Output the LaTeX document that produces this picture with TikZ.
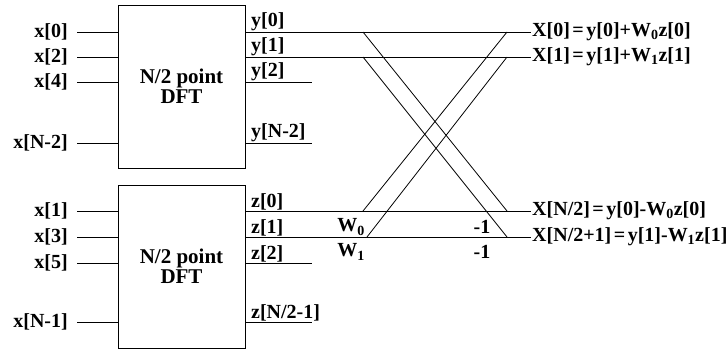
\documentclass[tikz,border=0pt]{standalone}
\usepackage{fontspec}
\setmainfont{Liberation Serif}
\usetikzlibrary{positioning}

\newcommand{\eqsp}{\hspace{2.5pt}=\hspace{2.5pt}}

\begin{document}
\begin{tikzpicture}[x=1pt, y=-1pt,
font=\fontsize{20}{22}\selectfont\bfseries,
dftbox/.style={draw, line width=0.8pt, minimum width=127pt, minimum height=163pt, align=center, font=\fontsize{21}{20}\selectfont\bfseries},
inlbl/.style={anchor=east, inner xsep=9pt, inner ysep=0pt},
outlbl/.style={anchor=south west, inner xsep=3pt, inner ysep=1pt},
sumlbl/.style={anchor=west, inner sep=1pt},
wire/.style={line width=0.8pt}
]
\useasboundingbox (0,0) rectangle (727,351);

% the two half-size transforms
\node[dftbox] (dfteven) at (181.5,86.5) {N/2 point\\DFT};
\node[dftbox] (dftodd) at (181.5,266.5) {N/2 point\\DFT};

% inputs
\foreach \nm/\lbl/\yy/\bx in {xa/{x[0]}/32/dfteven, xb/{x[2]}/57/dfteven, xc/{x[4]}/82/dfteven, xd/{x[N-2]}/143/dfteven,
  xe/{x[1]}/211/dftodd, xf/{x[3]}/237/dftodd, xg/{x[5]}/263/dftodd, xh/{x[N-1]}/322/dftodd}{
  \node[inlbl] (\nm) at (77,\yy) {\lbl};
  \draw[wire] (\nm) -- (\nm -| \bx.west);
}

% results
\node[sumlbl] (X0) at (531,32) {X[0]\eqsp y[0]+W\textsubscript{0}z[0]};
\node[sumlbl] (X1) at (531,57) {X[1]\eqsp y[1]+W\textsubscript{1}z[1]};
\node[sumlbl] (XN2) at (531,211) {X[N/2]\eqsp y[0]-W\textsubscript{0}z[0]};
\node[sumlbl] (XN21) at (531,237) {X[N/2+1]\eqsp y[1]-W\textsubscript{1}z[1]};

% outputs of the upper DFT
\node[outlbl] (ya) at (248,32) {y[0]};
\node[outlbl] (yb) at (248,57) {y[1]};
\node[outlbl] (yc) at (248,82) {y[2]};
\node[outlbl] (yd) at (248,143) {y[N-2]};
\coordinate (ycend) at (312,82);
\coordinate (ydend) at (312,143);
\draw[wire] (dfteven.east |- X0) -- (X0);
\draw[wire] (dfteven.east |- X1) -- (X1);
\draw[wire] (dfteven.east |- ycend) -- (ycend);
\draw[wire] (dfteven.east |- ydend) -- (ydend);

% outputs of the lower DFT
\node[outlbl] (za) at (248,211) {z[0]};
\node[outlbl] (zb) at (248,237) {z[1]};
\node[outlbl] (zc) at (248,263) {z[2]};
\node[outlbl] (zd) at (248,322) {z[N/2-1]};
\coordinate (zcend) at (312,263);
\coordinate (zdend) at (312,322);
\draw[wire] (dftodd.east |- XN2) -- (XN2);
\draw[wire] (dftodd.east |- XN21) -- (XN21);
\draw[wire] (dftodd.east |- zcend) -- (zcend);
\draw[wire] (dftodd.east |- zdend) -- (zdend);

% butterflies
\coordinate (bl) at (363,0);
\coordinate (blz) at (367,0);
\coordinate (br) at (507,0);
\draw[wire] (bl |- X0) -- (br |- XN2);
\draw[wire] (bl |- X1) -- (br |- XN21);
\draw[wire] (bl |- XN2) -- (br |- X0);
\draw[wire] (blz |- XN21) -- (br |- X1);

% twiddle factors
\node (wa) at (351,227) {W\textsubscript{0}};
\node (wb) at (351,252) {W\textsubscript{1}};
\node (ma) at (482,227) {-1};
\node (mb) at (482,252) {-1};
\end{tikzpicture}
\end{document}
